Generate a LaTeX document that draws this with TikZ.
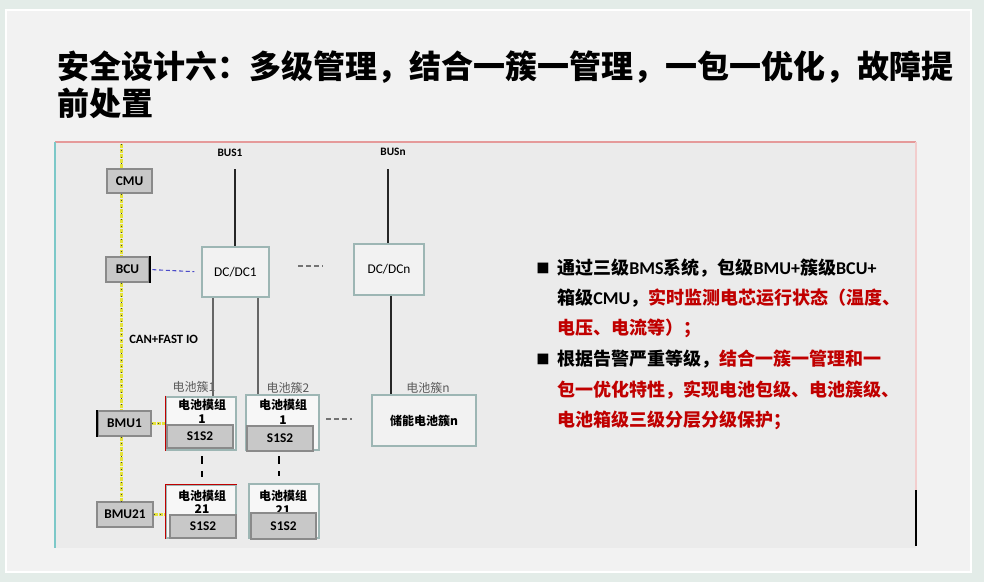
\documentclass[tikz,border=0pt]{standalone}
\usepackage{fontspec}
\setmainfont{Noto Sans CJK SC}
\newfontfamily\cjk{Noto Sans CJK SC}
\newfontfamily\lat{Carlito}
\definecolor{bgout}{HTML}{E3ECE8}
\definecolor{panel}{HTML}{F2F2F2}
\definecolor{diag}{HTML}{EBEBEB}
\definecolor{boxedge}{HTML}{9DB6B4}
\definecolor{grayfill}{HTML}{C8C8C8}
\definecolor{grayedge}{HTML}{8A8A8A}
\definecolor{myred}{HTML}{C00000}
\definecolor{yel}{HTML}{E4E23A}
\definecolor{pinkline}{HTML}{E59A9A}
\definecolor{cyanline}{HTML}{7CC8C8}
\definecolor{bluedash}{HTML}{4B4BC8}
\definecolor{lblgray}{HTML}{5A5A5A}
\begin{document}
\begin{tikzpicture}[x=0.75pt,y=-0.75pt,
  wh/.style 2 args={minimum width=#1*0.75pt, minimum height=#2*0.75pt},
  graybox/.style={draw=grayedge, fill=grayfill, line width=1.2pt, inner sep=0pt,
    font=\lat\bfseries\fontsize{10}{11}\selectfont},
  tealbox/.style={draw=boxedge, fill=panel, line width=1.5pt, inner sep=0pt},
  modbox/.style={draw=boxedge, fill=panel!60!white, line width=1.5pt, inner sep=0pt},
  lbl/.style={inner sep=0pt, font=\cjk\bfseries\fontsize{9}{10}\selectfont},
  clbl/.style={inner sep=0pt, text=lblgray, font=\cjk\fontsize{9}{10}\selectfont},
  buslbl/.style={inner sep=0pt, font=\lat\bfseries\fontsize{8.5}{9}\selectfont},
  dclbl/.style={inner sep=0pt, font=\lat\fontsize{10}{11}\selectfont},
  title/.style={anchor=west, inner sep=0pt, font=\cjk\bfseries\fontsize{24}{28}\selectfont},
  rt/.style={anchor=west, inner sep=0pt, font=\cjk\bfseries\fontsize{13.5}{16}\selectfont},
  sq/.style={anchor=west, inner sep=0pt, font=\cjk\bfseries\fontsize{10}{12}\selectfont},
  busline/.style={draw=black!85, line width=1.5pt},
  gline/.style={draw=black!60, line width=1.8pt},
  vdash/.style={draw=black, line width=2pt, dash pattern=on 6pt off 5pt},
  gdash/.style={draw=black!55, line width=0.9pt, dash pattern=on 3.5pt off 2.5pt},
  yline/.style={draw=yel, line width=2pt, dash pattern=on 3pt off 0.8pt,
    postaction={draw=black!75, line width=0.8pt, dash pattern=on 0.8pt off 4pt}},
  bline/.style={draw=bluedash, line width=0.8pt, dash pattern=on 3pt off 2pt}
]
\useasboundingbox (0,0) rectangle (984,582);
% background and slide
\fill[bgout] (0,0) rectangle (984,582);
\draw[white, line width=1.5pt, fill=panel] (6,10) rectangle (971,572);
% diagram area
\fill[diag] (55,142) rectangle (916,548);
\draw[pinkline, line width=1.2pt] (55,142) -- (916,142);
\draw[cyanline, line width=0.8pt] (55,142) -- (55,548);
\draw[pinkline!50, line width=0.8pt] (916,142) -- (916,490);
\draw[black, line width=1pt] (916,490) -- (916,546);

% title
\node[title] (t1) at (57,67) {安全设计六：多级管理，结合一簇一管理，一包一优化，故障提};
\node[title] (t2) at (57,103) {前处置};

% bus labels and DC/DC boxes
\node[buslbl] (bus1) at (230,153) {BUS1};
\node[buslbl] (busn) at (393,152) {BUSn};
\coordinate (bus1top) at (235,169);
\coordinate (busntop) at (388,169);
\node[tealbox, wh={67}{50}, dclbl] (dc1) at (235.5,272) {DC/DC1};
\node[tealbox, wh={70}{51}, dclbl] (dcn) at (389,269.5) {DC/DCn};
\draw[busline] (bus1top) -- (bus1top |- dc1.north);
\draw[busline] (busntop) -- (busntop |- dcn.north);

% management units
\node[graybox, wh={45}{24}] (cmu) at (129.5,181) {CMU};
\node[graybox, wh={43}{25}] (bcu) at (127.5,269.5) {BCU};
\node[graybox, wh={53}{25}] (bmu1) at (124.5,423.5) {BMU1};
\node[graybox, wh={56}{25}] (bmu21) at (125,514.5) {BMU21};
\draw[black, line width=1.2pt] (bcu.north east) -- (bcu.south east);
\draw[black, line width=1.4pt] (bmu1.north west) -- (bmu1.south west);

% yellow bus
\coordinate (ytop) at (121.5,144);
\draw[yline] (ytop) -- (ytop |- cmu.north);
\draw[yline] (ytop |- cmu.south) -- (ytop |- bcu.north);
\draw[yline] (ytop |- bcu.south) -- (ytop |- bmu1.north);
\draw[yline] (ytop |- bmu1.south) -- (ytop |- bmu21.north);
\node[buslbl, anchor=west, font=\lat\bfseries\fontsize{9.5}{10}\selectfont] (can) at (129,339) {CAN+FAST IO};

% BCU to DC/DC1
\draw[bline, shorten <=2pt, shorten >=5pt] (bcu.east) -- (dc1.west);
% dashes between DC/DC
\coordinate (g1a) at (298,266);
\coordinate (g1b) at (323,266);
\draw[gdash] (g1a) -- (g1b);

% cluster labels
\node[clbl] (c1) at (194,387) {电池簇1};
\node[clbl] (c2) at (288,388) {电池簇2};
\node[clbl] (cn) at (428,388) {电池簇n};

% modules column 1
\node[modbox, wh={70}{53}] (m1) at (201,423) {};
\node[lbl] (m1a) at (202,405) {电池模组};
\node[lbl] (m1b) at (202,419) {1};
\node[graybox, wh={66}{23}] (s1) at (200,436.5) {S1S2};
\draw[myred, line width=0.6pt] (m1.north west) -- (m1.south west);

\node[modbox, wh={70}{53}] (m21) at (201,511.5) {};
\node[lbl] (m21a) at (202,496) {电池模组};
\node[lbl] (m21b) at (202,509) {21};
\node[graybox, wh={66}{23}] (s21) at (203,526.5) {S1S2};
\draw[myred, line width=0.6pt] (m21.south west) -- (m21.north west) -- (m21.north east);

% modules column 2
\node[modbox, wh={73}{55}] (m2) at (282.5,422.5) {};
\node[lbl] (m2a) at (283,405) {电池模组};
\node[lbl] (m2b) at (283,420) {1};
\node[graybox, wh={66}{25}] (s2) at (280,438.5) {S1S2};

\node[modbox, wh={70}{54}] (m22) at (284,511) {};
\node[lbl] (m22a) at (283,496) {电池模组};
\node[lbl] (m22b) at (283,510) {21};
\node[graybox, wh={65}{26}] (s22) at (283.5,526) {S1S2};

% cluster n
\node[tealbox, wh={104}{51}, lbl] (bn) at (424,420.5) {储能电池簇n};
\coordinate (g2a) at (326,419);
\coordinate (g2b) at (352,419);
\draw[gdash] (g2a) -- (g2b);

% DC lines to clusters
\draw[gline] ([xshift=-16.9pt]dc1.south) -- ([xshift=-16.9pt]dc1.south |- m1.north);
\draw[gline] ([xshift=16.9pt]dc1.south) -- ([xshift=16.9pt]dc1.south |- m2.north);
\draw[busline] ([xshift=1.5pt]dcn.south) -- ([xshift=1.5pt]dcn.south |- bn.north);

% vertical dashed between modules
\draw[vdash, shorten <=5.5pt, shorten >=5pt] ([xshift=1.5pt]s1.south) -- ([xshift=1.5pt]s1.south |- m21.north);
\draw[vdash, shorten <=3.5pt, shorten >=5pt] ([xshift=-0.75pt]s2.south) -- ([xshift=-0.75pt]s2.south |- m22.north);

% BMU connectors
\draw[yline] (bmu1.east) -- (bmu1.east -| m1.west);
\draw[yline] (bmu21.east) -- (bmu21.east -| m21.west);

% right text
\node[sq] (sq1) at (536,268) {■};
\node[rt] (r1) at (557,268) {通过三级{\lat BMS}系统，包级{\lat BMU+}簇级{\lat BCU+}};
\node[rt] (r2) at (557,298) {箱级{\lat CMU}，\textcolor{myred}{实时监测电芯运行状态（温度、}};
\node[rt, text=myred] (r3) at (557,328) {电压、电流等）；};
\node[sq] (sq2) at (536,359) {■};
\node[rt] (r4) at (557,359) {根据告警严重等级，\textcolor{myred}{结合一簇一管理和一}};
\node[rt, text=myred] (r5) at (557,390) {包一优化特性，实现电池包级、电池簇级、};
\node[rt, text=myred] (r6) at (557,420) {电池箱级三级分层分级保护；};
\end{tikzpicture}
\end{document}
